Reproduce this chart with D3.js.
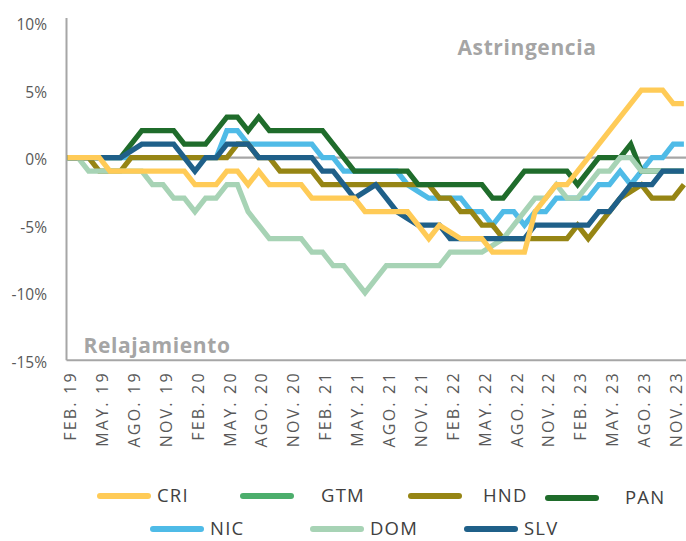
<!DOCTYPE html>
<html>
<head>
<meta charset="utf-8">
<script src="https://cdn.jsdelivr.net/npm/d3@7"></script>
<style>
  body { margin: 0; background: #fff; }
  svg { display: block; font-family: "Open Sans", sans-serif; }
</style>
</head>
<body>
<div id="chart"></div>
<script>
// monthly categories, Feb 2019 - Dec 2023
const months = [
  "FEB. 19","MAR. 19","ABR. 19","MAY. 19","JUN. 19","JUL. 19","AGO. 19","SEP. 19","OCT. 19","NOV. 19","DIC. 19",
  "ENE. 20","FEB. 20","MAR. 20","ABR. 20","MAY. 20","JUN. 20","JUL. 20","AGO. 20","SEP. 20","OCT. 20","NOV. 20","DIC. 20",
  "ENE. 21","FEB. 21","MAR. 21","ABR. 21","MAY. 21","JUN. 21","JUL. 21","AGO. 21","SEP. 21","OCT. 21","NOV. 21","DIC. 21",
  "ENE. 22","FEB. 22","MAR. 22","ABR. 22","MAY. 22","JUN. 22","JUL. 22","AGO. 22","SEP. 22","OCT. 22","NOV. 22","DIC. 22",
  "ENE. 23","FEB. 23","MAR. 23","ABR. 23","MAY. 23","JUN. 23","JUL. 23","AGO. 23","SEP. 23","OCT. 23","NOV. 23","DIC. 23"
];
const tickMonths = [
  "FEB. 19","MAY. 19","AGO. 19","NOV. 19","FEB. 20","MAY. 20","AGO. 20","NOV. 20","FEB. 21","MAY. 21",
  "AGO. 21","NOV. 21","FEB. 22","MAY. 22","AGO. 22","NOV. 22","FEB. 23","MAY. 23","AGO. 23","NOV. 23"
];
const yTicks = [-15, -10, -5, 0, 5, 10];

// series values (%)
const cri = [0,0,0,0,-1,-1,-1,-1,-1,-1,-1,-1,-2,-2,-2,-1,-1,-2,-1,-2,-2,-2,-2,-3,-3,-3,-3,-3,-4,-4,-4,-4,-4,-5,-6,-5,-5.5,-6,-6,-6,-7,-7,-7,-7,-4,-3,-2,-2,-1,0,1,2,3,4,5,5,5,4,4];
const gtm = []; // no visible line in the chart
const hnd = [0,0,0,-1,-1,-1,0,0,0,0,0,0,0,0,0,0,1,1,0,0,-1,-1,-1,-1,-2,-2,-2,-2,-2,-2,-2,-2,-2,-2,-2,-3,-3,-4,-4,-5,-5,-6,-6,-6,-6,-6,-6,-6,-5,-6,-5,-4,-3,-2.5,-2,-3,-3,-3,-2];
const pan = [0,0,0,0,0,0,1,2,2,2,2,1,1,1,2,3,3,2,3,2,2,2,2,2,2,1,0,-1,-1,-1,-1,-1,-1,-2,-2,-2,-2,-2,-2,-2,-3,-3,-2,-1,-1,-1,-1,-1,-2,-1,0,0,0,1,-1,-1,-1,-1,-1];
const nic = [0,0,0,0,0,0,0,0,0,0,0,0,0,0,0,2,2,1,1,1,1,1,1,1,0,0,-1,-1,-1,-1,-1,-1,-2,-2.5,-3,-3,-3,-3,-4,-4,-5,-4,-4,-5,-4,-4,-3,-3,-3,-3,-2,-2,-1,-2,-1,0,0,1,1];
const dom = [0,0,-1,-1,-1,-1,-1,-1,-2,-2,-3,-3,-4,-3,-3,-2,-2,-4,-5,-6,-6,-6,-6,-7,-7,-8,-8,-9,-10,-9,-8,-8,-8,-8,-8,-8,-7,-7,-7,-7,-6.5,-6,-5,-4,-3,-3,-2,-3,-3,-2,-1,-1,0,0,-1,-1,-1,-1,-1];
const slv = [0,0,0,0,0,0,0.5,1,1,1,1,0,-1,0,0,1,1,1,0,0,0,0,0,0,-1,-1,-2,-3,-2.5,-2,-3,-4,-4.5,-5,-5,-5,-6,-6,-6,-6,-6,-6,-6,-6,-5,-5,-5,-5,-5,-5,-4,-4,-3,-2,-2,-2,-1,-1,-1];

const names = ["CRI", "GTM", "HND", "PAN", "NIC", "DOM", "SLV"];
const colors = ["#ffcb57", "#4cae6c", "#968514", "#1f6c2b", "#4fbbe7", "#a7d3b5", "#1f6089"];
const values = [cri, gtm, hnd, pan, nic, dom, slv];
const drawOrder = ["GTM", "NIC", "HND", "PAN", "DOM", "SLV", "CRI"];

const width = 686, height = 541;
const gray = "#a6a6a6";

const svg = d3.select("#chart").append("svg")
  .attr("width", width)
  .attr("height", height);

const x = d3.scalePoint()
  .domain(months)
  .range([67.4, 683.9]);

const y = d3.scaleLinear()
  .domain([-15, 10])
  .range([360.2, 22.7]);

// y axis labels
const yAxis = svg.append("g")
  .attr("transform", "translate(47,2)")
  .call(d3.axisLeft(y).tickValues(yTicks).tickSize(0).tickPadding(0).tickFormat(d => d + "%"));
yAxis.select(".domain").remove();
yAxis.selectAll("text")
  .attr("fill", "#595959")
  .style("font-size", "15.5px")
  .style("font-family", "'Open Sans', sans-serif");

// x axis labels (rotated)
const xAxis = svg.append("g")
  .attr("transform", `translate(0,${y(-15)})`)
  .call(d3.axisBottom(x).tickValues(tickMonths).tickSize(0).tickFormat(d => d));
xAxis.select(".domain").remove();
xAxis.selectAll("text")
  .attr("transform", "rotate(-90)")
  .attr("x", -11)
  .attr("y", 0)
  .attr("dy", "0.36em")
  .attr("text-anchor", "end")
  .attr("fill", "#595959")
  .style("font-size", "16px")
  .style("letter-spacing", "2.2px")
  .style("font-family", "'Open Sans', sans-serif");
xAxis.selectAll(".tick").attr("transform", d => `translate(${x(d) + 3},0)`);

// axis lines
svg.append("line")
  .attr("x1", 66.5).attr("x2", 66.5)
  .attr("y1", 18).attr("y2", y(-15))
  .attr("stroke", gray).attr("stroke-width", 2);
svg.append("line")
  .attr("x1", 66.5).attr("x2", width)
  .attr("y1", y(-15)).attr("y2", y(-15))
  .attr("stroke", gray).attr("stroke-width", 2);
svg.append("line")
  .attr("x1", 66.5).attr("x2", width)
  .attr("y1", y(0)).attr("y2", y(0))
  .attr("stroke", gray).attr("stroke-width", 2.2);

// series lines
const line = d3.line()
  .x((d, i) => x(months[i]))
  .y(d => y(d));

drawOrder.forEach(n => {
  const k = names.indexOf(n);
  if (!values[k].length) return;
  svg.append("path")
    .datum(values[k])
    .attr("fill", "none")
    .attr("stroke", colors[k])
    .attr("stroke-width", 5.2)
    .attr("stroke-linejoin", "miter")
    .attr("d", line);
});

// annotations
svg.append("text")
  .attr("x", 527).attr("y", 55)
  .attr("text-anchor", "middle")
  .attr("fill", "#a5a5a5")
  .style("font-size", "21px")
  .style("font-weight", "700")
  .style("letter-spacing", "0.6px")
  .text("Astringencia");
svg.append("text")
  .attr("x", 157).attr("y", 353)
  .attr("text-anchor", "middle")
  .attr("fill", "#a5a5a5")
  .style("font-size", "21px")
  .style("font-weight", "700")
  .style("letter-spacing", "0.6px")
  .text("Relajamiento");

// legend
const legendPos = [
  {lx: 100, tx: 157, ly: 496},
  {lx: 243, tx: 321, ly: 496},
  {lx: 411, tx: 483, ly: 496},
  {lx: 548, tx: 625, ly: 498},
  {lx: 153, tx: 210, ly: 529},
  {lx: 313, tx: 370, ly: 529},
  {lx: 467, tx: 524, ly: 529}
];
const legend = svg.append("g");
names.forEach((n, k) => {
  const p = legendPos[k];
  legend.append("line")
    .attr("x1", p.lx).attr("x2", p.lx + 48)
    .attr("y1", p.ly).attr("y2", p.ly)
    .attr("stroke", colors[k])
    .attr("stroke-width", 6)
    .attr("stroke-linecap", "round");
  legend.append("text")
    .attr("x", p.tx).attr("y", p.ly)
    .attr("dy", "0.35em")
    .attr("fill", "#404040")
    .style("font-size", "18.5px")
    .style("letter-spacing", "1.2px")
    .text(n);
});
</script>
</body>
</html>
